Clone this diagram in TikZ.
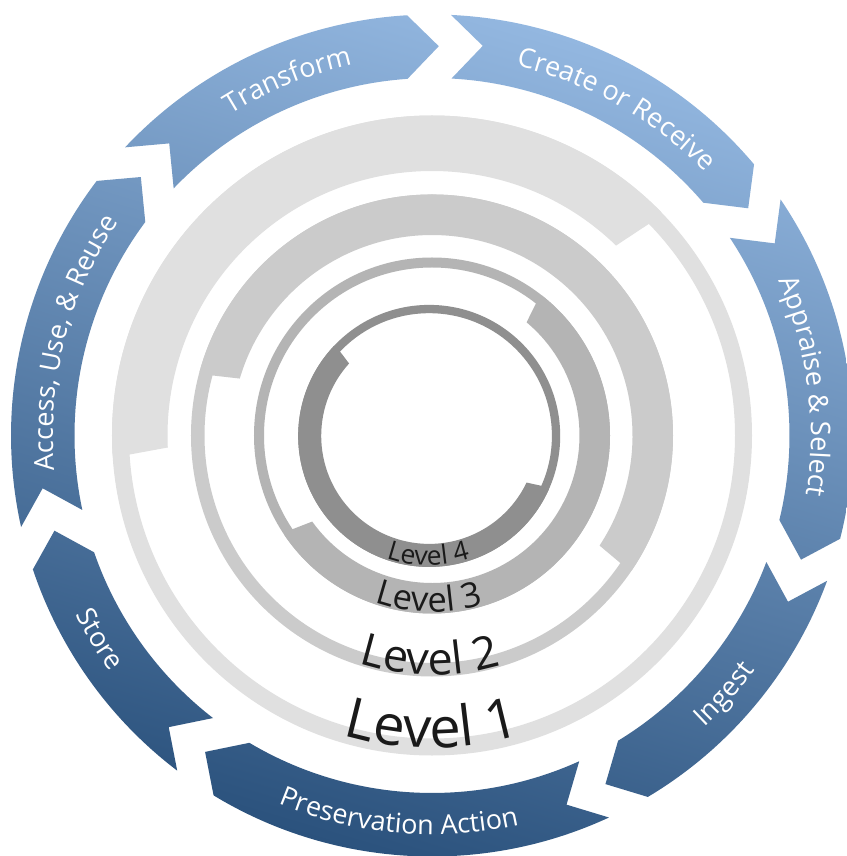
\documentclass[tikz,border=0pt]{standalone}
\usepackage{fontspec}
\setmainfont{Open Sans}
\usetikzlibrary{calc,decorations.text}

% colours
\definecolor{arrowLight}{RGB}{147,183,224}
\definecolor{arrowDark}{RGB}{43,82,125}
\definecolor{levelOne}{RGB}{224,224,224}
\definecolor{levelTwo}{RGB}{203,203,203}
\definecolor{levelThree}{RGB}{180,180,180}
\definecolor{levelFour}{RGB}{143,143,143}
\definecolor{labelInk}{RGB}{26,26,26}

% geometry of the outer ring of arrows
\newcommand\outR{421}
\newcommand\innR{357.5}
\newcommand\midR{389.25}
\newcommand\gapHalf{22}     % half width of the gap between two arrows
\newcommand\tipDepth{31.5}  % depth of the arrow point / tail notch
\newcommand\outOff{2.9955}  % asin(gapHalf/outR)
\newcommand\innOff{3.528}   % asin(gapHalf/innR)

\newcommand\stageFont{\fontsize{27}{27}\selectfont}

% one arrow of the ring: #1 tail junction angle, #2 head junction angle (clockwise flow)
\newcommand\arrowSeg[2]{%
  ({#1-\outOff}:\outR) arc[start angle={#1-\outOff}, end angle={#2+\outOff}, radius=\outR]
  -- ($({#2}:\midR)+({#2+90}:{\gapHalf-\tipDepth})$)
  -- ({#2+\innOff}:\innR) arc[start angle={#2+\innOff}, end angle={#1-\innOff}, radius=\innR]
  -- ($({#1}:\midR)+({#1+90}:{-\gapHalf-\tipDepth})$) -- cycle }

% a level ring: thin full band plus a thick arc
% #1 colour, #2 outer r, #3 inner r of thin band, #4 inner r of thick arc,
% #5/#6 clockwise end (inner corner / band corner), #7/#8 counter-clockwise end
\newcommand\levelRing[8]{%
  \fill[#1, even odd rule] (0,0) circle[radius=#2] (0,0) circle[radius=#3];
  \fill[#1] (#6:#3) -- (#5:#4) arc[start angle=#5, end angle=#7, radius=#4]
    -- (#8:#3) -- (#8:#2) arc[start angle=#8, end angle=#6, radius=#2] -- cycle;}

% curved labels: #1 baseline radius, #2 font size, #3 centre angle, #4 text
\newcommand\levelLabel[4]{%
  \path[decorate, decoration={text along path, text align=center, text color=labelInk,
    text={|\fontsize{#2}{#2}\selectfont|#4}}]
    ({#3-32}:#1) arc[start angle={#3-32}, end angle={#3+32}, radius=#1];}
\newcommand\stageTextCW[3]{%
  \path[decorate, decoration={text along path, text align=center, text color=white,
    text={|\stageFont|#3}}]
    ({#1+35}:#2) arc[start angle={#1+35}, end angle={#1-35}, radius=#2];}
\newcommand\stageTextCCW[3]{%
  \path[decorate, decoration={text along path, text align=center, text color=white,
    text={|\stageFont|#3}}]
    ({#1-35}:#2) arc[start angle={#1-35}, end angle={#1+35}, radius=#2];}

\begin{document}
\begin{tikzpicture}[x=1pt,y=1pt]
\useasboundingbox (-432,-420.5) rectangle (414,435.5);
\fill[white] (-432,-420.5) rectangle (414,435.5);

% lifecycle arrows with one shared gradient
\begin{scope}
  \clip \arrowSeg{90.4}{37.1} \arrowSeg{37.1}{-17.2} \arrowSeg{-17.2}{-62.15}
        \arrowSeg{-62.15}{-124.25} \arrowSeg{-124.25}{-164.45}
        \arrowSeg{-164.45}{-220.2} \arrowSeg{139.8}{90.4};
  \shade[top color=arrowLight, bottom color=arrowDark, shading angle=-16.5]
    (-421,-421) rectangle (421,421);
\end{scope}

% stage names
\stageTextCW{112.1}{379}{Transform}
\stageTextCW{60.6}{379}{Create or Receive}
\stageTextCW{7.5}{379}{Appraise {\&} Select}
\stageTextCCW{-41.5}{399}{Ingest}
\stageTextCCW{265}{399}{Preservation Action}
\stageTextCCW{211.5}{399}{Store}
\stageTextCW{165.5}{379}{Access, Use, {\&} Reuse}

% levels
\levelRing{levelOne}{320}{303}{264.5}{45.9}{44.3}{182.6}{183.6}
\levelRing{levelTwo}{241}{227.5}{200.5}{-33.3}{-34.1}{163.5}{164.7}
\levelRing{levelThree}{178}{168}{147.5}{-144.3}{-146.1}{50.1}{51.8}
\begin{scope}[shift={(-2.8,-0.4)}]
  \levelRing{levelFour}{131}{122.7}{108}{137.9}{136.6}{334.4}{336}
  \levelLabel{129.5}{26.5}{269.5}{Level 4}
\end{scope}
\levelLabel{312.5}{56}{270}{Level 1}
\levelLabel{239.5}{45}{269.5}{Level 2}
\levelLabel{176.5}{34.5}{269}{Level 3}
\end{tikzpicture}
\end{document}
